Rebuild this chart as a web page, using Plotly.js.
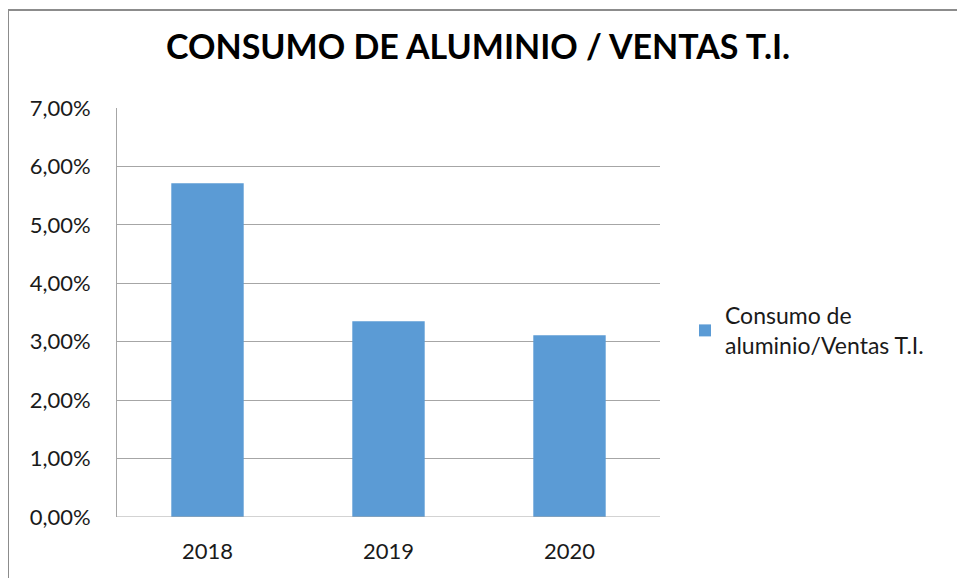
<!DOCTYPE html>
<html>
<head>
<meta charset="utf-8">
<script src="https://cdn.plot.ly/plotly-3.0.1.min.js"></script>
<style>
html,body{margin:0;padding:0;background:#fff;overflow:hidden;}
#frame{position:absolute;left:8px;top:9px;width:1000px;height:700px;border-left:1.5px solid #8c8c8c;border-top:2px solid #8c8c8c;pointer-events:none;z-index:10;}
#chart{position:absolute;left:0;top:0;width:957px;height:578px;}
</style>
</head>
<body>
<div id="chart"></div>
<div id="frame"></div>
<script>
const categories = ['2018', '2019', '2020'];
const values = [0.0571, 0.0335, 0.0311];
const seriesName = 'Consumo de<br>aluminio/Ventas T.I.';
const titleText = 'CONSUMO DE ALUMINIO / VENTAS T.I.';
const yTicks = [0, 0.01, 0.02, 0.03, 0.04, 0.05, 0.06, 0.07];

const font = 'Lato, "Open Sans", sans-serif';
const data = [{
  type: 'bar',
  x: categories,
  y: values,
  name: seriesName,
  marker: {color: '#5b9bd5'},
  width: 0.4,
  showlegend: true,
  hoverinfo: 'x+y'
}];
const layout = {
  width: 957, height: 578,
  margin: {l: 117, r: 297, t: 108, b: 60.5, pad: 0},
  paper_bgcolor: '#fff', plot_bgcolor: '#fff',
  separators: ',.',
  font: {family: font, size: 22, color: '#1a1a1a'},
  title: {text: '<b>' + titleText + '</b>', font: {family: font, size: 34, color: '#000'},
          x: 0.665, xanchor: 'center', y: 0.919, yanchor: 'middle', xref: 'paper', yref: 'container'},
  xaxis: {type: 'category', showgrid: false, showline: false, ticks: '', zeroline: false,
          tickfont: {family: font, size: 22, color: '#1a1a1a'}, ticklabelstandoff: 19},
  yaxis: {range: [0, 0.07], tickvals: yTicks, tickformat: '.2%', showgrid: true,
          gridcolor: '#a6a6a6', gridwidth: 1, zeroline: false, showline: true,
          linecolor: '#a6a6a6', linewidth: 1, ticks: '', ticklabelstandoff: 21,
          tickfont: {family: font, size: 22, color: '#1a1a1a'}},
  shapes: [{type: 'line', xref: 'paper', yref: 'y', x0: 0, x1: 1, y0: 0, y1: 0,
            line: {color: '#a6a6a6', width: 1}}],
  showlegend: true,
  legend: {x: 1.046, xanchor: 'left', y: 0.456, yanchor: 'middle', bgcolor: 'rgba(0,0,0,0)',
           font: {family: font, size: 23, color: '#1a1a1a'}, itemwidth: 30, tracegroupgap: 0}
};
Plotly.newPlot('chart', data, layout, {staticPlot: true, displayModeBar: false});
</script>
</body>
</html>
